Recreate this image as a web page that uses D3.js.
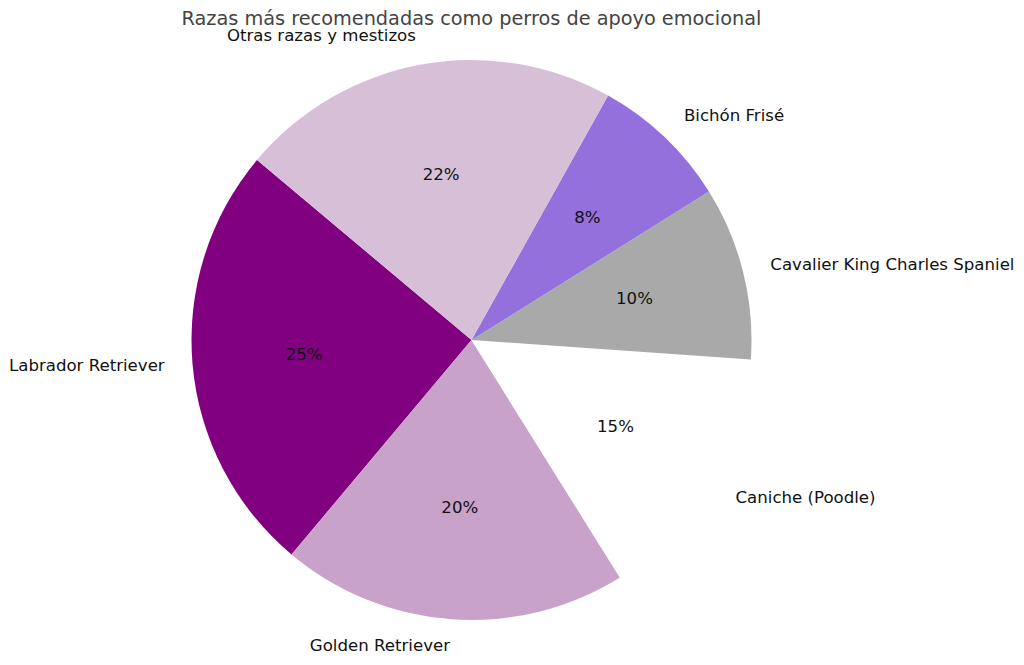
<!DOCTYPE html>
<html>
<head>
<meta charset="utf-8">
<script src="https://cdn.jsdelivr.net/npm/d3@7"></script>
<style>
  body { margin: 0; background: #fff; }
  svg { display: block; }
</style>
</head>
<body>
<svg id="svg" width="1024" height="665"></svg>
<script>
// chart data
const breeds = ["Labrador Retriever", "Golden Retriever", "Caniche (Poodle)",
                "Cavalier King Charles Spaniel", "Bichón Frisé", "Otras razas y mestizos"]
const shares = [25, 20, 15, 10, 8, 22]
const colors = ["#800080", "#C8A2C8", "#FFFFFF", "#A9A9A9", "#9370DB", "#D8BFD8"]
const title = "Razas más recomendadas como perros de apoyo emocional"

const cx = 471.5, cy = 340, r = 280
const startDeg = 140

const svg = d3.select("#svg")
    .attr("font-family", "DejaVu Sans, sans-serif")

const data = breeds.map((b, i) => ({ name: b, value: shares[i], color: colors[i] }))

// matplotlib goes counter-clockwise from startangle; d3 goes clockwise from 12 o'clock
const toD3 = deg => (90 - deg) * Math.PI / 180
const pie = d3.pie()
    .value(d => d.value)
    .sort(null)
    .startAngle(toD3(startDeg))
    .endAngle(toD3(startDeg) - 2 * Math.PI)

const arcs = pie(data)
const arc = d3.arc().innerRadius(0).outerRadius(r)

const g = svg.append("g").attr("transform", `translate(${cx},${cy})`)

g.selectAll("path")
    .data(arcs)
    .enter()
    .append("path")
    .attr("d", arc)
    .attr("fill", d => d.data.color)

const mid = d => (d.startAngle + d.endAngle) / 2
const totalSum = d3.sum(shares)

// outer labels at 1.1 r
g.selectAll("text.lbl")
    .data(arcs)
    .enter()
    .append("text")
    .attr("class", "lbl")
    .attr("x", d => Math.sin(mid(d)) * r * 1.1)
    .attr("y", d => -Math.cos(mid(d)) * r * 1.1)
    .attr("dy", "0.25em")
    .attr("text-anchor", d => Math.sin(mid(d)) >= 0 ? "start" : "end")
    .attr("font-size", 16.6)
    .attr("fill", "#111")
    .text(d => d.data.name)

// percentages at 0.6 r
g.selectAll("text.pct")
    .data(arcs)
    .enter()
    .append("text")
    .attr("class", "pct")
    .attr("x", d => Math.sin(mid(d)) * r * 0.6)
    .attr("y", d => -Math.cos(mid(d)) * r * 0.6)
    .attr("dy", "0.3em")
    .attr("text-anchor", "middle")
    .attr("font-size", 16.6)
    .attr("fill", "#111")
    .text(d => Math.round(d.data.value / totalSum * 100) + "%")

svg.append("text")
    .attr("x", cx)
    .attr("y", 25)
    .attr("text-anchor", "middle")
    .attr("font-size", 19.3)
    .attr("fill", "#444")
    .text(title)
</script>
</body>
</html>
